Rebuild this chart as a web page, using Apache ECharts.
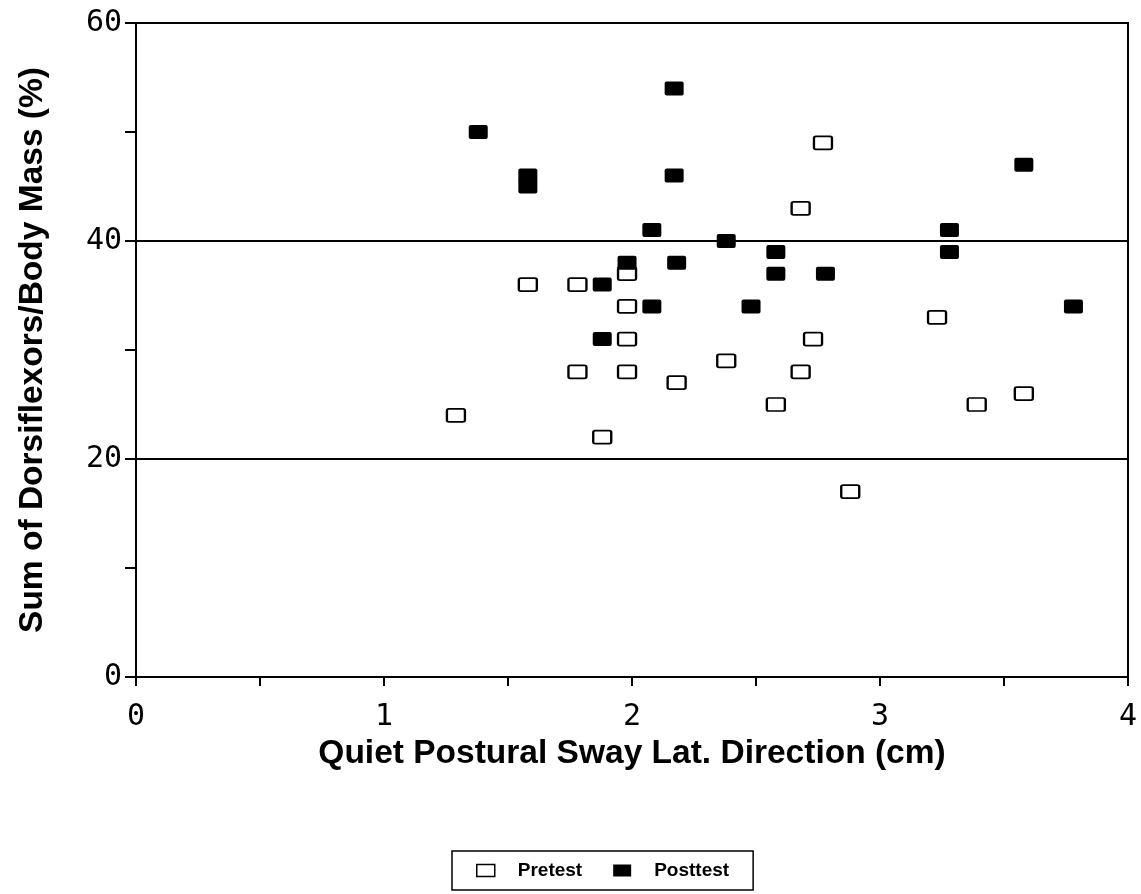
<!DOCTYPE html>
<html>
<head>
<meta charset="utf-8">
<script src="https://cdn.jsdelivr.net/npm/echarts@6/dist/echarts.min.js"></script>
<style>
html,body{margin:0;padding:0;background:#fff;}
#chart{width:1141px;height:894px;}
</style>
</head>
<body>
<div id="chart"></div>
<script>
// Data
const pretestX = [1.29, 1.58, 1.78, 1.78, 1.88, 1.98, 1.98, 1.98, 1.98, 2.18, 2.38, 2.58, 2.68, 2.68, 2.73, 2.77, 2.88, 3.23, 3.39, 3.58];
const pretestY = [24, 36, 36, 28, 22, 37, 34, 31, 28, 27, 29, 25, 43, 28, 31, 49, 17, 33, 25, 26];
const posttestX = [1.38, 1.58, 1.58, 1.88, 1.88, 1.98, 2.08, 2.08, 2.17, 2.17, 2.18, 2.38, 2.48, 2.58, 2.58, 2.78, 3.28, 3.28, 3.58, 3.78];
const posttestY = [50, 46, 45, 36, 31, 38, 41, 34, 54, 46, 38, 40, 34, 39, 37, 37, 41, 39, 47, 34];
const xTickLabels = ['0', '1', '2', '3', '4'];
const yTickLabels = ['0', '20', '40', '60'];
const seriesNames = ['Pretest', 'Posttest'];
const xTitle = 'Quiet Postural Sway Lat. Direction (cm)';
const yTitle = 'Sum of Dorsiflexors/Body Mass (%)';

const pre = pretestX.map((x, i) => [x, pretestY[i]]);
const post = posttestX.map((x, i) => [x, posttestY[i]]);

const markerPath = 'path://M2,0 H17 Q19,0 19,2 V12 Q19,14 17,14 H2 Q0,14 0,12 V2 Q0,0 2,0 Z';

const chart = echarts.init(document.getElementById('chart'), null, {renderer: 'canvas'});
const tickFont = {fontFamily: 'DejaVu Sans Mono', fontSize: 30, color: '#000'};
const titleFont = {fontFamily: 'Liberation Sans', fontWeight: 'bold', fontSize: 33.5, color: '#000'};

chart.setOption({
  animation: false,
  backgroundColor: '#fff',
  grid: {left: 136, right: 13, top: 23, bottom: 217, show: true, borderColor: '#000', borderWidth: 2},
  legend: {
    left: 452, top: 851,
    orient: 'horizontal',
    borderColor: '#000', borderWidth: 1.5, borderRadius: 0,
    padding: [10, 24, 10, 24],
    itemGap: 31, itemWidth: 18, itemHeight: 12,
    textStyle: {fontFamily: 'Liberation Sans', fontWeight: 'bold', fontSize: 19, color: '#000', padding: [0, 0, 0, 18]},
    data: [
      {name: seriesNames[0], icon: 'rect', itemStyle: {color: '#fff', borderColor: '#000', borderWidth: 1.5}},
      {name: seriesNames[1], icon: 'rect', itemStyle: {color: '#000', borderWidth: 0}}
    ]
  },
  xAxis: [
    {
      type: 'value', min: 0, max: 4, interval: 1,
      name: xTitle, nameLocation: 'middle', nameGap: 48,
      nameTextStyle: titleFont,
      axisLine: {show: true, lineStyle: {color: '#000', width: 2}},
      axisTick: {show: true, length: 9, lineStyle: {color: '#000', width: 2}},
      axisLabel: {...tickFont, margin: 25, formatter: v => xTickLabels[Math.round(v)]},
      splitLine: {show: false}
    },
    {
      type: 'value', min: 0, max: 4, interval: 0.5, position: 'bottom',
      axisLine: {show: false},
      axisTick: {show: true, length: 9, lineStyle: {color: '#000', width: 2}},
      axisLabel: {show: false},
      splitLine: {show: false}
    }
  ],
  yAxis: [
    {
      type: 'value', min: 0, max: 60, interval: 20,
      name: yTitle, nameLocation: 'middle', nameGap: 86,
      nameTextStyle: titleFont,
      axisLine: {show: true, lineStyle: {color: '#000', width: 2}},
      axisTick: {show: false},
      axisLabel: {...tickFont, margin: 14, formatter: v => yTickLabels[Math.round(v / 20)]},
      splitLine: {show: true, lineStyle: {color: '#000', width: 2}}
    },
    {
      type: 'value', min: 0, max: 60, interval: 10, position: 'left',
      axisLine: {show: false},
      axisTick: {show: true, length: 11, lineStyle: {color: '#000', width: 2}},
      axisLabel: {show: false},
      splitLine: {show: false}
    }
  ],
  series: [
    {
      name: seriesNames[0], type: 'scatter', xAxisIndex: 0, yAxisIndex: 0,
      symbol: markerPath, symbolSize: [18, 13],
      itemStyle: {color: '#fff', borderColor: '#000', borderWidth: 2, opacity: 1},
      data: pre
    },
    {
      name: seriesNames[1], type: 'scatter', xAxisIndex: 0, yAxisIndex: 0,
      symbol: markerPath, symbolSize: [19, 14],
      itemStyle: {color: '#000', borderWidth: 0, opacity: 1},
      data: post
    }
  ]
});
</script>
</body>
</html>
